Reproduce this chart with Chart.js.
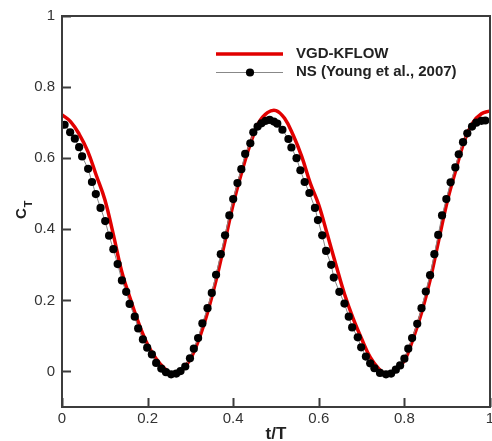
<!DOCTYPE html>
<html>
<head>
<meta charset="utf-8">
<script src="https://cdn.jsdelivr.net/npm/chart.js@4/dist/chart.umd.min.js"></script>
<style>
  html, body { margin: 0; padding: 0; overflow: hidden; background: #fff; }
  #wrap { width: 500px; height: 441px; }
</style>
</head>
<body>
<div id="wrap"><canvas id="ctChart"></canvas></div>
<script>
// NS (Young et al., 2007) - points
const nsT = [0.006, 0.019, 0.030, 0.040, 0.047, 0.061, 0.070, 0.079, 0.090, 0.101,
  0.110, 0.120, 0.130, 0.140, 0.150, 0.158, 0.170, 0.178, 0.189, 0.199,
  0.210, 0.220, 0.232, 0.243, 0.255, 0.267, 0.277, 0.288, 0.299, 0.308,
  0.318, 0.328, 0.340, 0.350, 0.360, 0.371, 0.381, 0.391, 0.400, 0.410,
  0.419, 0.428, 0.440, 0.447, 0.457, 0.466, 0.476, 0.485, 0.495, 0.503,
  0.515, 0.529, 0.536, 0.548, 0.557, 0.567, 0.578, 0.591, 0.598, 0.608,
  0.617, 0.629, 0.635, 0.648, 0.660, 0.670, 0.678, 0.691, 0.699, 0.710,
  0.720, 0.730, 0.743, 0.757, 0.769, 0.780, 0.790, 0.800, 0.809, 0.818,
  0.830, 0.840, 0.850, 0.860, 0.870, 0.879, 0.888, 0.898, 0.908, 0.919,
  0.927, 0.937, 0.947, 0.958, 0.968, 0.980, 0.989];
const nsCT = [0.694, 0.673, 0.655, 0.631, 0.605, 0.570, 0.533, 0.499, 0.460, 0.423,
  0.382, 0.344, 0.302, 0.256, 0.224, 0.190, 0.154, 0.121, 0.090, 0.067,
  0.048, 0.024, 0.008, -0.002, -0.008, -0.006, 0.001, 0.014, 0.037, 0.064,
  0.094, 0.135, 0.178, 0.221, 0.272, 0.330, 0.383, 0.439, 0.485, 0.530,
  0.569, 0.612, 0.642, 0.673, 0.689, 0.698, 0.705, 0.708, 0.703, 0.697,
  0.680, 0.654, 0.630, 0.600, 0.566, 0.533, 0.502, 0.460, 0.426, 0.383,
  0.339, 0.300, 0.264, 0.224, 0.191, 0.154, 0.124, 0.096, 0.068, 0.042,
  0.023, 0.009, -0.004, -0.008, -0.006, 0.005, 0.017, 0.036, 0.064, 0.094,
  0.134, 0.178, 0.225, 0.271, 0.330, 0.384, 0.439, 0.485, 0.532, 0.574,
  0.611, 0.645, 0.670, 0.689, 0.700, 0.705, 0.706];

// VGD-KFLOW - line
const vgdT = [0.00, 0.02, 0.04, 0.06, 0.08, 0.10, 0.12, 0.14, 0.16, 0.18,
  0.20, 0.22, 0.24, 0.26, 0.28, 0.30, 0.32, 0.34, 0.36, 0.38,
  0.40, 0.42, 0.44, 0.46, 0.48, 0.50, 0.52, 0.54, 0.56, 0.58,
  0.60, 0.62, 0.64, 0.66, 0.68, 0.70, 0.72, 0.74, 0.76, 0.78,
  0.80, 0.82, 0.84, 0.86, 0.88, 0.90, 0.92, 0.94, 0.96, 0.98, 1.00];
const vgdCT = [0.722, 0.703, 0.668, 0.620, 0.552, 0.484, 0.385, 0.279, 0.203, 0.133,
  0.076, 0.036, 0.008, -0.009, 0.003, 0.035, 0.091, 0.166, 0.257, 0.362,
  0.471, 0.561, 0.640, 0.700, 0.728, 0.734, 0.712, 0.665, 0.605, 0.530,
  0.468, 0.385, 0.300, 0.218, 0.150, 0.092, 0.040, 0.008, -0.009, 0.002,
  0.030, 0.091, 0.165, 0.257, 0.368, 0.478, 0.566, 0.648, 0.700, 0.725, 0.733];

const xTicks = [0, 0.2, 0.4, 0.6, 0.8, 1];
const yTicks = [0, 0.2, 0.4, 0.6, 0.8, 1];
const seriesNames = ['VGD-KFLOW', 'NS (Young et al., 2007)'];

const axisColor = '#3c3c3c';
const redColor = '#e10000';

// cadre, graduations vers l'interieur, titres et legende
const framePlugin = {
  id: 'frame',
  afterDraw(chart) {
    const ctx = chart.ctx;
    const a = chart.chartArea;
    const xs = chart.scales.x, ys = chart.scales.y;
    ctx.save();
    ctx.strokeStyle = axisColor;
    ctx.lineWidth = 2;
    ctx.strokeRect(a.left, a.top, a.right - a.left, a.bottom - a.top);
    ctx.beginPath();
    yTicks.forEach(v => {
      const y = Math.round(ys.getPixelForValue(v)) + 0.5;
      ctx.moveTo(a.left, y); ctx.lineTo(a.left + 9, y);
    });
    xTicks.forEach(v => {
      const x = Math.round(xs.getPixelForValue(v)) + 0.5;
      ctx.moveTo(x, a.bottom); ctx.lineTo(x, a.bottom - 9);
    });
    ctx.stroke();

    // titre x
    ctx.fillStyle = '#222';
    ctx.font = 'bold 17px "Liberation Sans", Arial, sans-serif';
    ctx.textAlign = 'center';
    ctx.textBaseline = 'alphabetic';
    ctx.fillText('t/T', 276, 439);

    // titre y : C_T
    ctx.translate(26, 219);
    ctx.rotate(-Math.PI / 2);
    ctx.textAlign = 'left';
    ctx.font = 'bold 15px "Liberation Sans", Arial, sans-serif';
    ctx.fillText('C', 0, 0);
    const cw = ctx.measureText('C').width;
    ctx.font = 'bold 11px "Liberation Sans", Arial, sans-serif';
    ctx.fillText('T', cw + 1, 6);
    ctx.restore();

    // legende
    ctx.save();
    ctx.strokeStyle = redColor;
    ctx.lineWidth = 3.5;
    ctx.beginPath(); ctx.moveTo(216, 54); ctx.lineTo(283, 54); ctx.stroke();
    ctx.strokeStyle = '#888';
    ctx.lineWidth = 1;
    ctx.beginPath(); ctx.moveTo(216, 72.5); ctx.lineTo(283, 72.5); ctx.stroke();
    ctx.fillStyle = '#000';
    ctx.beginPath(); ctx.arc(250, 72.5, 4.1, 0, Math.PI * 2); ctx.fill();
    ctx.fillStyle = '#222';
    ctx.font = 'bold 15px "Liberation Sans", Arial, sans-serif';
    ctx.textAlign = 'left';
    ctx.textBaseline = 'middle';
    ctx.fillText(seriesNames[0], 296, 54);
    ctx.fillText(seriesNames[1], 296, 72);
    ctx.restore();
  }
};

new Chart(document.getElementById('ctChart'), {
  type: 'line',
  data: {
    datasets: [
      {
        label: seriesNames[1],
        data: nsT.map((t, i) => ({ x: t, y: nsCT[i] })),
        borderColor: '#888',
        borderWidth: 1,
        pointRadius: 4.1,
        pointBackgroundColor: '#000',
        pointBorderWidth: 0,
        tension: 0,
        order: 0
      },
      {
        label: seriesNames[0],
        data: vgdT.map((t, i) => ({ x: t, y: vgdCT[i] })),
        borderColor: redColor,
        borderWidth: 3.5,
        pointRadius: 0,
        tension: 0.4,
        order: 1
      }
    ]
  },
  options: {
    responsive: true,
    maintainAspectRatio: false,
    animation: false,
    layout: { padding: { left: 0, right: 10, top: 14, bottom: 0 } },
    plugins: { legend: { display: false }, tooltip: { enabled: false } },
    scales: {
      x: {
        type: 'linear',
        min: 0, max: 1,
        grid: { display: false, drawTicks: false },
        border: { display: false },
        afterBuildTicks: s => { s.ticks = xTicks.map(v => ({ value: v })); },
        afterFit: s => { s.height = 34; },
        ticks: {
          padding: 3,
          maxRotation: 0,
          color: '#333',
          font: { family: '"Liberation Sans", Arial, sans-serif', size: 15 },
          callback: v => String(Math.round(v * 10) / 10)
        }
      },
      y: {
        type: 'linear',
        min: -0.1, max: 1,
        grid: { display: false, drawTicks: false },
        border: { display: false },
        afterBuildTicks: s => { s.ticks = yTicks.map(v => ({ value: v })); },
        afterFit: s => { s.width = 62; },
        ticks: {
          padding: 7,
          color: '#333',
          font: { family: '"Liberation Sans", Arial, sans-serif', size: 15 },
          callback: v => String(Math.round(v * 10) / 10)
        }
      }
    }
  },
  plugins: [framePlugin]
});
</script>
</body>
</html>
